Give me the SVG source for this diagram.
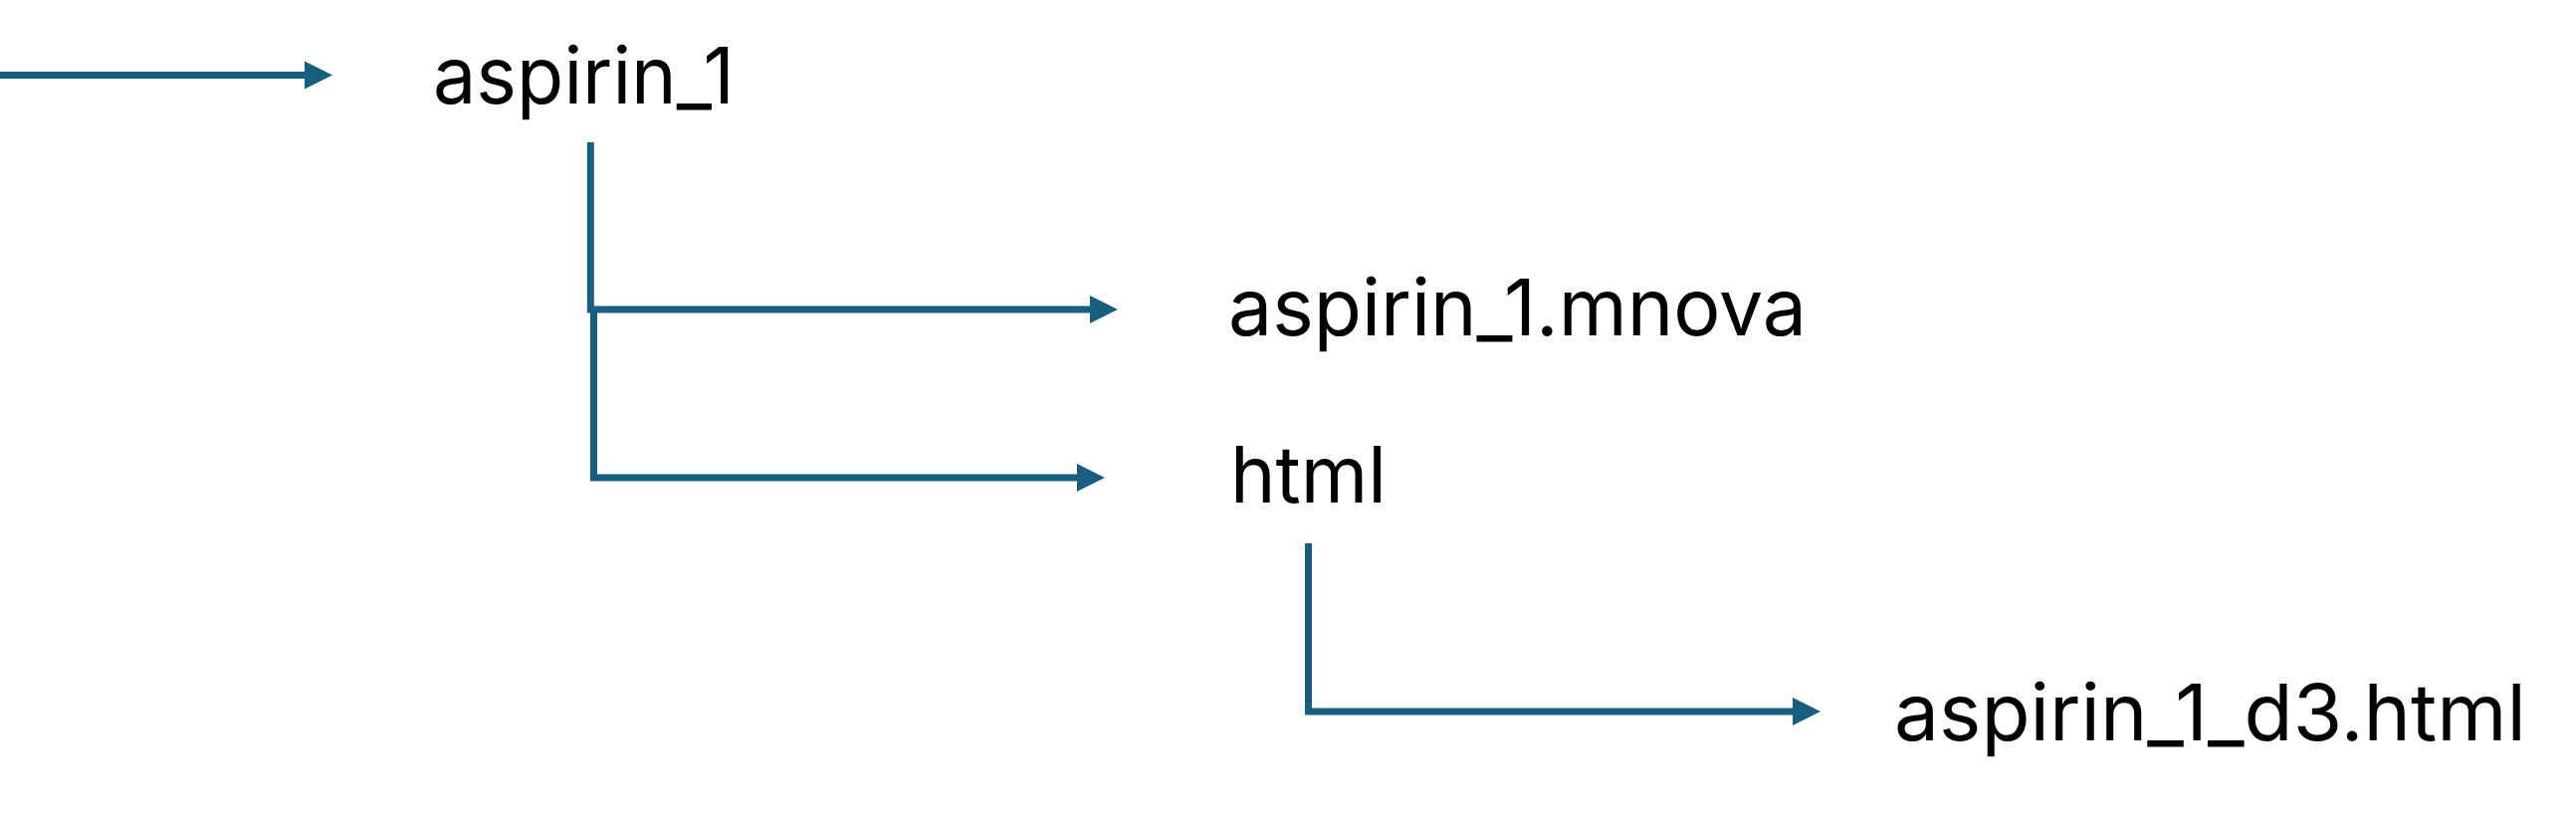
<svg xmlns="http://www.w3.org/2000/svg" width="2588" height="818" viewBox="0 0 2588 818">
  <style>
    .conn { fill: none; stroke: #185E7F; stroke-width: 7; stroke-linejoin: miter; stroke-linecap: butt; }
    .head { fill: #185E7F; stroke: none; }
    .lbl { font-family: Inter, "Liberation Sans", Arial, sans-serif; font-size: 79px; fill: #000000; }
  </style>
  <defs>
    <path id="arrowhead" class="head" d="M0,-14 L28,0 L0,14 Z"/>
  </defs>
  <rect width="2588" height="818" fill="#ffffff"/>
  <g id="connectors">
    <path class="conn" d="M0,75.5 H307"/>
    <use href="#arrowhead" x="306" y="75.5"/>
    <path class="conn" d="M593.3,143 V311 H1096"/>
    <use href="#arrowhead" x="1095" y="311"/>
    <path class="conn" d="M596.5,311 V480 H1083"/>
    <use href="#arrowhead" x="1082" y="480"/>
    <path class="conn" d="M1314.5,546 V715 H1802"/>
    <use href="#arrowhead" x="1801" y="715"/>
  </g>
  <g id="node-aspirin_1">
    <text class="lbl" x="435" y="104" textLength="303" lengthAdjust="spacingAndGlyphs">aspirin_1</text>
  </g>
  <g id="node-aspirin_1-mnova">
    <text class="lbl" x="1234" y="337" textLength="581" lengthAdjust="spacingAndGlyphs">aspirin_1.mnova</text>
  </g>
  <g id="node-html">
    <text class="lbl" x="1236" y="505" textLength="157" lengthAdjust="spacingAndGlyphs">html</text>
  </g>
  <g id="node-aspirin_1_d3-html">
    <text class="lbl" x="1903" y="744" textLength="635" lengthAdjust="spacingAndGlyphs">aspirin_1_d3.html</text>
  </g>
</svg>
